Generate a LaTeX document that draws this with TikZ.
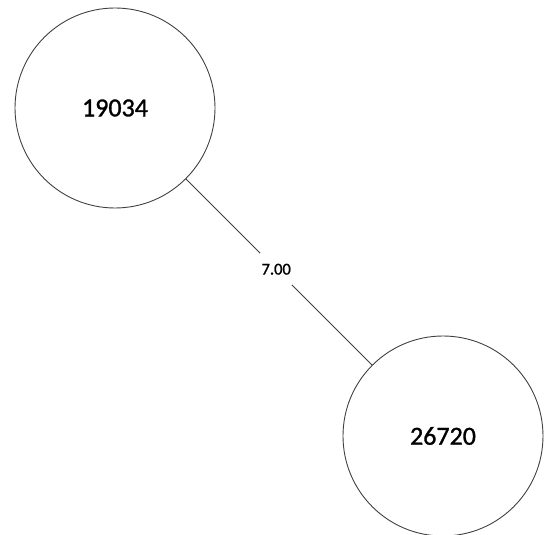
\documentclass[tikz,border=0pt]{standalone}
\usepackage{fontspec}
\setmainfont{Carlito}
% a slightly heavier cut of the same face for the labels
\newfontfamily\labelface{Carlito}[FakeBold=1.2]
\begin{document}
\begin{tikzpicture}[x=1pt,y=-1pt,
  vertex/.style={circle,draw=black!75,line width=0.9pt,minimum size=200pt,inner sep=0pt,font=\labelface\fontsize{26}{30}\selectfont},
  link/.style={draw=black!75,line width=0.9pt},
  weight/.style={fill=white,minimum size=32pt,inner sep=0pt,font=\labelface\fontsize{16.5}{19}\selectfont}]
  \useasboundingbox (0,0) rectangle (547,535);
  \node[vertex] (a) at (115,108) {19034};
  \node[vertex] (b) at (443,436) {26720};
  \path[link] (a) -- node[weight,pos=0.485] {7.00} (b);
\end{tikzpicture}
\end{document}
